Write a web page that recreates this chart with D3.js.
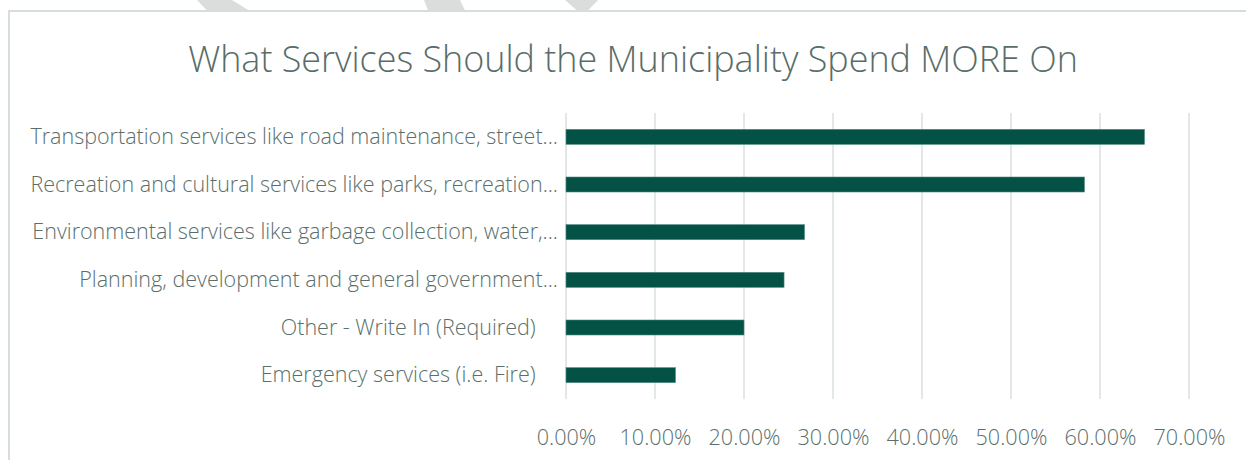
<!DOCTYPE html>
<html>
<head>
<meta charset="utf-8">
<script src="https://cdn.jsdelivr.net/npm/d3@7"></script>
<style>
  html, body { margin: 0; padding: 0; background: #ffffff; }
  svg { display: block; }
  text { font-family: "Open Sans", "Noto Sans", sans-serif; white-space: pre; }
</style>
</head>
<body>
<div id="chart"></div>
<script>
// Survey results: share of respondents asking for more spending per service
// (the last two answer labels carry trailing padding from the survey export)
const categories = [
  "Transportation services like road maintenance, street...",
  "Recreation and cultural services like parks, recreation...",
  "Environmental services like garbage collection, water,...",
  "Planning, development and general government...",
  "Other - Write In (Required)\u00a0\u00a0\u00a0\u00a0",
  "Emergency services (i.e. Fire)\u00a0\u00a0\u00a0\u00a0"
];
const shares = [0.650, 0.5825, 0.268, 0.245, 0.200, 0.123];
const tickValues = [0, 0.1, 0.2, 0.3, 0.4, 0.5, 0.6, 0.7];
const titleText = "What Services Should the Municipality Spend MORE On";

const W = 1246, H = 460;
const svg = d3.select("#chart").append("svg").attr("width", W).attr("height", H);

// Faint decorative shapes peeking above the chart frame
const deco = [
  [[197, 0], [232, 0], [249, 10.5], [207, 10.5]],
  [[424, 0], [460, 0], [465, 10.5], [428, 10.5]],
  [[565, 0], [598, 0], [588, 10.5], [577, 10.5]]
];
svg.selectAll("polygon.deco").data(deco).join("polygon")
  .attr("class", "deco")
  .attr("points", d => d.map(p => p.join(",")).join(" "))
  .attr("fill", "#dcdcdc");

// Chart frame (left and top edges visible)
svg.append("path")
  .attr("d", "M9,460 V11 H1246")
  .attr("fill", "none")
  .attr("stroke", "#d6dedb")
  .attr("stroke-width", 2);

const x = d3.scaleLinear().domain([0, 0.7]).range([566, 1189]);
const y = d3.scaleBand().domain(categories).range([113, 399]);
const barH = 15;

// Vertical gridlines
svg.append("g").selectAll("line").data(tickValues).join("line")
  .attr("x1", d => x(d)).attr("x2", d => x(d))
  .attr("y1", 113).attr("y2", 399)
  .attr("stroke", "#d8e0dd").attr("stroke-width", 1.5);

// Bars
svg.append("g").selectAll("rect").data(categories).join("rect")
  .attr("x", x(0))
  .attr("y", d => y(d) + y.bandwidth() / 2 - barH / 2)
  .attr("width", (d, i) => x(shares[i]) - x(0))
  .attr("height", barH)
  .attr("fill", "#045245")
  .attr("stroke", "#4f8a80")
  .attr("stroke-width", 0.6);

// Category axis labels
const yAxis = d3.axisLeft(y).tickSize(0).tickPadding(0);
const gy = svg.append("g").attr("transform", "translate(558,0)").call(yAxis);
gy.select(".domain").remove();
gy.selectAll("text")
  .attr("fill", "#5a6f6b")
  .attr("font-size", 18)
  .attr("font-weight", 300)
  .attr("dy", "0.34em")
  .style("font-family", "'Open Sans', 'Noto Sans', sans-serif");

// Value axis labels
const xAxis = d3.axisBottom(x).tickValues(tickValues).tickSize(0).tickPadding(0)
  .tickFormat(d3.format(".2%"));
const gx = svg.append("g").attr("transform", "translate(0,430)").call(xAxis);
gx.select(".domain").remove();
gx.selectAll("text")
  .attr("fill", "#5a6f6b")
  .attr("font-size", 18)
  .attr("font-weight", 300)
  .attr("dy", "0.71em")
  .style("font-family", "'Open Sans', 'Noto Sans', sans-serif");

// Title
const title = svg.append("text")
  .attr("x", 633).attr("y", 72)
  .attr("text-anchor", "middle")
  .attr("fill", "#586d69")
  .attr("font-size", 32)
  .attr("font-weight", 300)
  .text(titleText);

// Fit text sizes to the available widths
const fit = (sel, target) => {
  const w = sel.node().getComputedTextLength();
  const fs = parseFloat(sel.attr("font-size"));
  return fs * target / w;
};
title.attr("font-size", fit(title, 890));
const longest = gy.selectAll("text").filter((d, i) => i === 1);
const labelSize = fit(longest, 528);
gy.selectAll("text").attr("font-size", labelSize);
const lastTick = gx.selectAll("text").filter((d, i) => i === 7);
gx.selectAll("text").attr("font-size", fit(lastTick, 72));
</script>
</body>
</html>
